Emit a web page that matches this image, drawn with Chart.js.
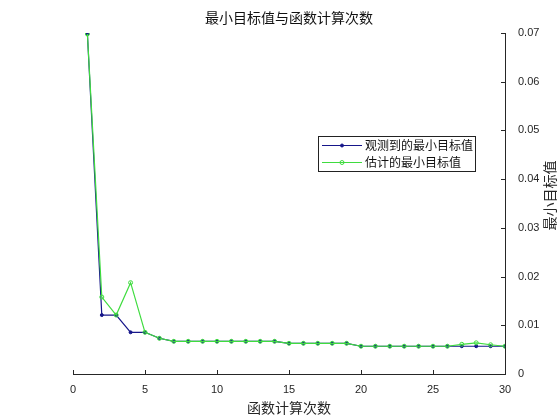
<!DOCTYPE html>
<html>
<head>
<meta charset="utf-8">
<script src="https://cdn.jsdelivr.net/npm/chart.js@4/dist/chart.umd.min.js"></script>
<style>
html,body{margin:0;padding:0;background:#fff;}
#wrap{width:560px;height:420px;}
</style>
</head>
<body>
<div id="wrap"><canvas id="c" width="560" height="420"></canvas></div>
<script>
const titleText = '最小目标值与函数计算次数';
const xTitle = '函数计算次数';
const yTitle = '最小目标值';
const seriesNames = ['观测到的最小目标值', '估计的最小目标值'];
const evals = [1,2,3,4,5,6,7,8,9,10,11,12,13,14,15,16,17,18,19,20,21,22,23,24,25,26,27,28,29,30];
const observed = [0.0698,0.0121,0.0121,0.00856,0.00856,0.00733,0.00671,0.00671,0.00671,0.00671,0.00671,0.00671,0.00671,0.00671,0.0063,0.0063,0.0063,0.0063,0.0063,0.0057,0.0057,0.0057,0.0057,0.0057,0.0057,0.0057,0.0057,0.0057,0.0057,0.0057];
const estimated = [0.0698,0.0158,0.0121,0.01875,0.00856,0.00733,0.00671,0.00671,0.00671,0.00671,0.00671,0.00671,0.00671,0.00671,0.0063,0.0063,0.0063,0.0063,0.0063,0.0057,0.0057,0.0057,0.0057,0.0057,0.0057,0.0057,0.0061,0.0064,0.0060,0.0057];
const xTicks = [0,5,10,15,20,25,30];
const yTickLabels = ['0','0.01','0.02','0.03','0.04','0.05','0.06','0.07'];

const blue = '#16168a';
const green = '#3fdc3f';
const axisColor = '#262626';
const cjk = '"Noto Sans CJK SC", sans-serif';
const latin = '"Liberation Sans", Arial, sans-serif';

const decor = {
  id: 'decor',
  afterDraw(chart) {
    const ctx = chart.ctx;
    const a = chart.chartArea;
    const xs = chart.scales.x, ys = chart.scales.y;
    ctx.save();
    // inward ticks
    ctx.strokeStyle = axisColor;
    ctx.lineWidth = 1;
    ctx.beginPath();
    xTicks.forEach(v => {
      const px = Math.round(xs.getPixelForValue(v)) + 0.5;
      ctx.moveTo(px, a.bottom);
      ctx.lineTo(px, a.bottom - 4);
    });
    yTickLabels.forEach(l => {
      const py = Math.round(ys.getPixelForValue(parseFloat(l))) + 0.5;
      ctx.moveTo(a.right, py);
      ctx.lineTo(a.right - 4, py);
    });
    ctx.stroke();
    // title
    ctx.fillStyle = '#111';
    ctx.font = '14px ' + cjk;
    ctx.textAlign = 'center';
    ctx.textBaseline = 'middle';
    ctx.fillText(titleText, (a.left + a.right) / 2, 18);
    // x title
    ctx.fillStyle = axisColor;
    ctx.font = '14px ' + cjk;
    ctx.fillText(xTitle, (a.left + a.right) / 2, 408);
    // y title (bottom-to-top)
    ctx.save();
    ctx.translate(550, (a.top + a.bottom) / 2 - 8);
    ctx.rotate(-Math.PI / 2);
    ctx.fillText(yTitle, 0, 0);
    ctx.restore();
    // legend
    const lx = 318.5, ly = 136.5, lw = 157, lh = 35;
    ctx.fillStyle = '#fff';
    ctx.fillRect(lx, ly, lw, lh);
    ctx.strokeStyle = '#222';
    ctx.strokeRect(lx, ly, lw, lh);
    const ds = chart.data.datasets;
    [0, 1].forEach(i => {
      const d = ds[i];
      const y = 145 + i * 17;
      ctx.strokeStyle = d.borderColor;
      ctx.lineWidth = 1;
      ctx.beginPath();
      ctx.moveTo(322, y + 0.5);
      ctx.lineTo(362, y + 0.5);
      ctx.stroke();
      ctx.beginPath();
      ctx.arc(342, y + 0.5, d.pointRadius, 0, Math.PI * 2);
      ctx.fillStyle = d.pointBackgroundColor;
      ctx.fill();
      ctx.stroke();
      ctx.fillStyle = '#111';
      ctx.font = '12px ' + cjk;
      ctx.textAlign = 'left';
      ctx.textBaseline = 'middle';
      ctx.fillText(d.label, 365, y + 0.5);
    });
    ctx.restore();
  }
};

new Chart(document.getElementById('c'), {
  type: 'line',
  data: {
    datasets: [
      {
        label: seriesNames[0],
        data: evals.map((x, i) => ({x: x, y: observed[i]})),
        borderColor: blue,
        backgroundColor: blue,
        pointBackgroundColor: blue,
        pointBorderColor: blue,
        pointRadius: 1.5,
        pointBorderWidth: 1,
        borderWidth: 1.2,
        tension: 0,
        order: 2
      },
      {
        label: seriesNames[1],
        data: evals.map((x, i) => ({x: x, y: estimated[i]})),
        borderColor: green,
        backgroundColor: green,
        pointBackgroundColor: 'rgba(255,255,255,0)',
        pointBorderColor: green,
        pointRadius: 2,
        pointBorderWidth: 1,
        borderWidth: 1.2,
        tension: 0,
        order: 1
      }
    ]
  },
  options: {
    responsive: false,
    animation: false,
    layout: {padding: {left: 73, top: 33, right: 0, bottom: 0}},
    plugins: {legend: {display: false}, title: {display: false}, tooltip: {enabled: false}},
    scales: {
      x: {
        type: 'linear',
        position: 'bottom',
        min: 0, max: 30,
        afterFit(s) { s.height = 46; },
        afterBuildTicks(s) { s.ticks = xTicks.map(v => ({value: v})); },
        grid: {display: false, drawTicks: false},
        border: {display: true, color: axisColor, width: 1},
        ticks: {color: axisColor, font: {family: latin, size: 11}, padding: 9, maxRotation: 0,
          callback: (v) => String(v)}
      },
      y: {
        type: 'linear',
        position: 'right',
        min: 0, max: 0.07,
        afterFit(s) { s.width = 55; },
        afterBuildTicks(s) { s.ticks = yTickLabels.map(l => ({value: parseFloat(l)})); },
        grid: {display: false, drawTicks: false},
        border: {display: true, color: axisColor, width: 1},
        ticks: {color: axisColor, font: {family: latin, size: 11}, padding: 13,
          callback: (v, i) => yTickLabels[i]}
      }
    }
  },
  plugins: [decor]
});
</script>
</body>
</html>
